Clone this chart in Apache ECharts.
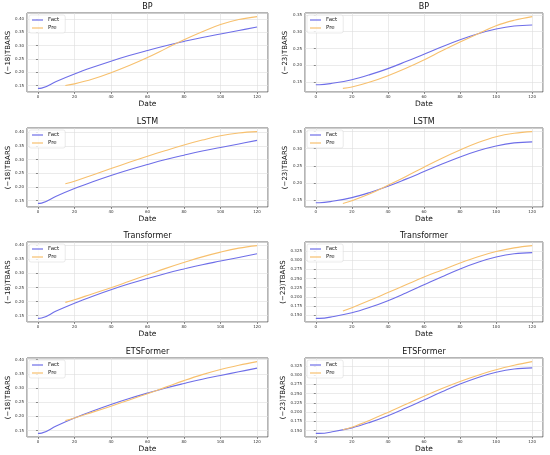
<!DOCTYPE html>
<html>
<head>
<meta charset="utf-8">
<script src="https://cdn.jsdelivr.net/npm/echarts@6/dist/echarts.min.js"></script>
<style>
  html, body { margin: 0; padding: 0; background: #fff; }
  #chart { width: 550px; height: 455px; }
</style>
</head>
<body>
<div id="chart"></div>
<script>
  // x 位置 (Date)
  var factX = [0, 2, 10, 20, 30, 40, 50, 60, 70, 80, 90, 100, 110, 120]
  var preX = [15, 20, 30, 40, 50, 60, 70, 80, 90, 100, 110, 120]

  // 实测值 Fact
  var fact18 = [0.140, 0.141, 0.166, 0.194, 0.219, 0.242, 0.263, 0.282, 0.300, 0.316, 0.331, 0.344, 0.357, 0.370]
  var fact23 = [0.142, 0.142, 0.147, 0.157, 0.172, 0.190, 0.211, 0.233, 0.255, 0.276, 0.294, 0.308, 0.317, 0.320]

  // 预测值 Pre (-18)
  var preBP18 = [0.151, 0.157, 0.175, 0.199, 0.226, 0.256, 0.289, 0.322, 0.352, 0.379, 0.398, 0.409]
  var preLSTM18 = [0.212, 0.221, 0.244, 0.267, 0.290, 0.312, 0.333, 0.353, 0.371, 0.387, 0.397, 0.402]
  var preTrans18 = [0.197, 0.206, 0.228, 0.249, 0.272, 0.295, 0.318, 0.339, 0.359, 0.376, 0.390, 0.399]
  var preETS18 = [0.185, 0.194, 0.215, 0.236, 0.258, 0.280, 0.303, 0.326, 0.347, 0.365, 0.380, 0.393]

  // 预测值 Pre (-23)
  var preBP23 = [0.131, 0.135, 0.150, 0.169, 0.191, 0.216, 0.243, 0.269, 0.294, 0.318, 0.334, 0.345]
  var preLSTM23 = [0.140, 0.148, 0.168, 0.193, 0.219, 0.246, 0.272, 0.296, 0.318, 0.335, 0.345, 0.350]
  var preTrans23 = [0.162, 0.171, 0.191, 0.212, 0.233, 0.254, 0.273, 0.292, 0.309, 0.323, 0.333, 0.339]
  var preETS23 = [0.152, 0.159, 0.178, 0.199, 0.221, 0.243, 0.264, 0.283, 0.300, 0.315, 0.327, 0.337]

  var models = ['BP', 'LSTM', 'Transformer', 'ETSFormer']
  var pre18 = [preBP18, preLSTM18, preTrans18, preETS18]
  var pre23 = [preBP23, preLSTM23, preTrans23, preETS23]

  var FACT_COLOR = '#6e6ee8'
  var PRE_COLOR = '#f7c06e'
  var FONT = 'DejaVu Sans'

  //每行的位置
  var rowTops = [13, 128, 242, 358]
  var rowHeights = [79, 79, 80, 79]
  var cols = [
    { left: 27, width: 241, nameGap: 13 },
    { left: 305, width: 238, nameGap: 16 }
  ]

  function zip(xs, ys) {
    return xs.map(function (x, i) { return [x, ys[i]] })
  }
  //matplotlib 默认 5% 边距
  function padExtent(a, b) {
    var lo = Math.min.apply(null, a.concat(b))
    var hi = Math.max.apply(null, a.concat(b))
    var m = (hi - lo) * 0.05
    return [lo - m, hi + m]
  }

  var option = {
    animation: false,
    backgroundColor: '#fff',
    title: [], grid: [], xAxis: [], yAxis: [], legend: [], series: []
  }

  var idx = 0
  for (var r = 0; r < 4; r++) {
    for (var c = 0; c < 2; c++) {
      var col = cols[c]
      var gTop = rowTops[r]
      var dec = 2, step = 0.05, ylabel, factData, preData
      if (c === 0) {
        ylabel = '(−18)TBARS'
        factData = fact18; preData = pre18[r]
      } else {
        ylabel = '(−23)TBARS'
        factData = fact23; preData = pre23[r]
        if (r >= 2) { dec = 3; step = 0.025 }
      }
      var yExt = padExtent(factData, preData)
      var xExt = padExtent(factX, preX)

      option.grid.push({
        left: col.left, top: gTop, width: col.width, height: rowHeights[r],
        show: true, borderColor: '#444', borderWidth: 0.8
      })
      option.title.push({
        text: models[r], padding: 0,
        left: col.left + col.width / 2, top: gTop - 10, textAlign: 'center',
        textStyle: { fontFamily: FONT, fontSize: 8, fontWeight: 'normal', color: '#111' }
      })
      option.xAxis.push({
        type: 'value', gridIndex: idx,
        min: xExt[0], max: xExt[1], minInterval: 20, maxInterval: 20,
        name: 'Date', nameLocation: 'middle', nameGap: 8,
        nameTextStyle: { fontFamily: FONT, fontSize: 7.5, color: '#111' },
        axisLine: { show: false },
        axisTick: { show: true, length: 2, lineStyle: { color: '#444', width: 0.6 } },
        axisLabel: { fontFamily: FONT, fontSize: 4, color: '#333', margin: 3, showMinLabel: false, showMaxLabel: false },
        splitLine: { show: true, lineStyle: { color: '#dedede', width: 0.6 } }
      })
      option.yAxis.push({
        type: 'value', gridIndex: idx,
        min: yExt[0], max: yExt[1], minInterval: step, maxInterval: step,
        name: ylabel, nameLocation: 'middle', nameGap: col.nameGap,
        nameTextStyle: { fontFamily: FONT, fontSize: 7, color: '#111' },
        axisLine: { show: false },
        axisTick: { show: true, length: 2, lineStyle: { color: '#444', width: 0.6 } },
        axisLabel: {
          fontFamily: FONT, fontSize: 4, color: '#333', margin: 3, showMinLabel: false, showMaxLabel: false,
          formatter: (function (d) { return function (v) { return v.toFixed(d) } })(dec)
        },
        splitLine: { show: true, lineStyle: { color: '#dedede', width: 0.6 } }
      })
      option.legend.push({
        data: ['Fact', 'Pre'],
        orient: 'vertical',
        left: col.left + 2, top: gTop + 2,
        icon: 'rect', itemWidth: 11, itemHeight: 1.2, itemGap: 2,
        padding: [2, 6, 2, 3],
        borderColor: '#d4d4d4', borderWidth: 0.5, borderRadius: 2,
        backgroundColor: 'rgba(255,255,255,0.8)',
        textStyle: { fontFamily: FONT, fontSize: 5.5, color: '#222' }
      })
      option.series.push({
        name: 'Fact', type: 'line', xAxisIndex: idx, yAxisIndex: idx,
        data: zip(factX, factData), smooth: 0.4, symbol: 'none',
        lineStyle: { color: FACT_COLOR, width: 1.1 }, itemStyle: { color: FACT_COLOR }
      })
      option.series.push({
        name: 'Pre', type: 'line', xAxisIndex: idx, yAxisIndex: idx,
        data: zip(preX, preData), smooth: 0.4, symbol: 'none',
        lineStyle: { color: PRE_COLOR, width: 1.1 }, itemStyle: { color: PRE_COLOR }
      })
      idx++
    }
  }

  var chart = echarts.init(document.getElementById('chart'))
  chart.setOption(option)
</script>
</body>
</html>
